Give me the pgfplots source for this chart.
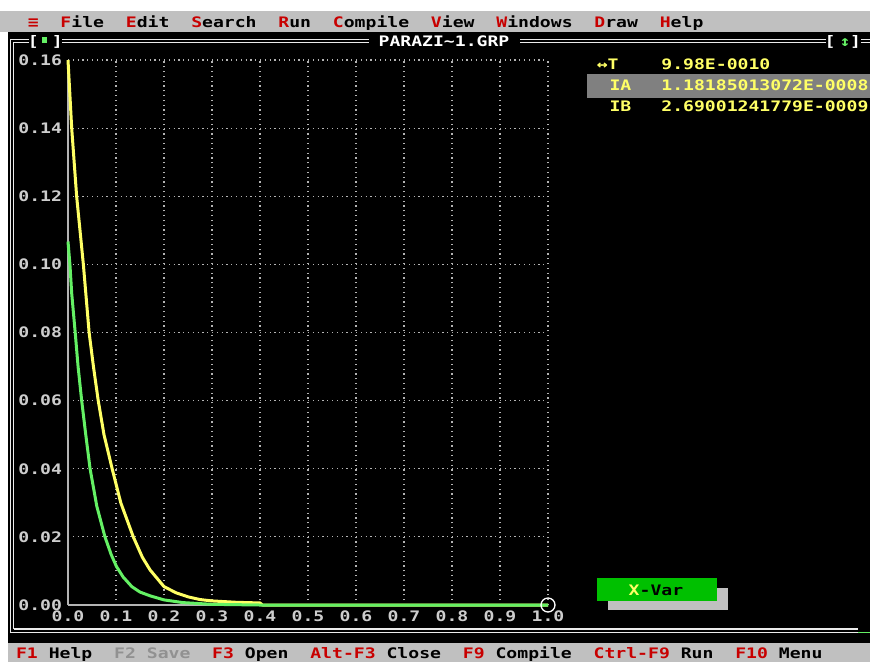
\documentclass[border=0pt]{standalone}
\usepackage{fontspec}
\usepackage{pgfplots}
\pgfplotsset{compat=1.18}
\newfontfamily\dos{DejaVu Sans Mono}[FakeStretch=1.25]
\newcommand\dosf{\dos\bfseries\fontsize{14.48}{16}\selectfont}
\definecolor{menugrey}{RGB}{192,192,192}
\definecolor{dosred}{RGB}{200,0,0}
\definecolor{dosyellow}{RGB}{255,255,102}
\definecolor{curveyellow}{RGB}{255,255,100}
\definecolor{curvegreen}{RGB}{100,240,100}
\definecolor{btngreen}{RGB}{0,192,0}
\definecolor{hlgrey}{RGB}{128,128,128}
\definecolor{labgrey}{RGB}{205,205,205}
\definecolor{gridgrey}{RGB}{180,180,180}
\definecolor{disgrey}{RGB}{145,145,145}
\definecolor{framewhite}{RGB}{235,235,235}
\begin{document}
\begin{tikzpicture}
\begin{scope}[x=1pt,y=-1pt]
\useasboundingbox (0,0) rectangle (870,662);
\fill[white] (0,0) rectangle (870,662);
\fill[menugrey] (0,10.5) rectangle (870,32);
\fill[black] (8,32) rectangle (870,643);
\fill[menugrey] (8,643) rectangle (870,662);
% menu bar
\node[anchor=base west, inner sep=0pt, font=\dosf, text=black] at (27.6,27.3)
 {\textcolor{dosred}{≡}~~\textcolor{dosred}{F}ile~~\textcolor{dosred}{E}dit~~\textcolor{dosred}{S}earch~~\textcolor{dosred}{R}un~~\textcolor{dosred}{C}ompile~~\textcolor{dosred}{V}iew~~\textcolor{dosred}{W}indows~~\textcolor{dosred}{D}raw~~\textcolor{dosred}{H}elp};
% status bar
\node[anchor=base west, inner sep=0pt, font=\dosf, text=black] at (15.9,658.3)
 {\textcolor{dosred}{F1}~Help~~\textcolor{disgrey}{F2~Save}~~\textcolor{dosred}{F3}~Open~~\textcolor{dosred}{Alt-F3}~Close~~\textcolor{dosred}{F9}~Compile~~\textcolor{dosred}{Ctrl-F9}~Run~~\textcolor{dosred}{F10}~Menu};
% window frame
\begin{scope}[framewhite, line width=1.4pt]
\draw (10.3,632.7) -- (10.3,39.7) -- (29,39.7);
\draw (13.7,629) -- (13.7,42.7) -- (29,42.7);
\draw (62,39.7) -- (369,39.7); \draw (62,42.7) -- (369,42.7);
\draw (520,39.7) -- (826,39.7); \draw (520,42.7) -- (826,42.7);
\draw (861,39.7) -- (870,39.7); \draw (861,42.7) -- (870,42.7);
\draw (10.3,632.7) -- (858,632.7);
\draw (13.7,629) -- (858,629);
\end{scope}
\draw[curvegreen, line width=1.4pt] (858,632.7) -- (870,632.7);
\node[anchor=base, inner sep=0pt, font=\dosf, text=white] at (33.3,46.5) {[};
\node[anchor=base, inner sep=0pt, font=\dosf, text=white] at (57.2,46.5) {]};
\fill[curvegreen] (41.7,37.3) rectangle (46.7,43.3);
\node[anchor=base, inner sep=0pt, font=\dosf, text=white] at (830,46.5) {[};
\node[anchor=base, inner sep=0pt, font=\dosf, text=curvegreen] at (845,46.5) {↕};
\node[anchor=base, inner sep=0pt, font=\dosf, text=white] at (855.5,46.5) {]};
\node[anchor=base west, inner sep=0pt, font=\dosf, text=white] at (378.4,46.5) {PARAZI\string~1.GRP};
% right panel
\fill[hlgrey] (586.7,74.3) rectangle (870,98.3);
\node[anchor=base west, inner sep=0pt, font=\dosf, text=dosyellow] at (596.6,69.3) {↔T};
\node[anchor=base west, inner sep=0pt, font=\dosf, text=dosyellow] at (661.2,69.3) {9.98E-0010};
\node[anchor=base west, inner sep=0pt, font=\dosf, text=dosyellow] at (609.3,90.3) {IA};
\node[anchor=base west, inner sep=0pt, font=\dosf, text=dosyellow] at (661.2,90.3) {1.18185013072E-0008};
\node[anchor=base west, inner sep=0pt, font=\dosf, text=dosyellow] at (609.3,111) {IB};
\node[anchor=base west, inner sep=0pt, font=\dosf, text=dosyellow] at (661.2,111) {2.69001241779E-0009};
% X-Var button
\fill[menugrey] (608.3,588.3) rectangle (728.3,610);
\fill[btngreen] (597.3,578.3) rectangle (717.3,600.7);
\node[anchor=base west, inner sep=0pt, font=\dosf, text=black] at (628.5,595) {\textcolor{dosyellow}{X}-Var};
\end{scope}
\begin{axis}[
  at={(68pt,-605pt)}, anchor=south west,
  scale only axis, width=480pt, height=545pt,
  xmin=0, xmax=1, ymin=0, ymax=0.16,
  clip=false,
  axis x line=bottom, axis y line=left,
  axis line style={draw=gridgrey, line width=1.3pt, -},
  xtick={0,0.1,0.2,0.3,0.4,0.5,0.6,0.7,0.8,0.9,1.0},
  ytick={0,0.02,0.04,0.06,0.08,0.10,0.12,0.14,0.16},
  major tick length=0pt,
  grid=major,
  major grid style={draw=gridgrey, line width=1.2pt, dash pattern=on 1.2pt off 3.6pt},
  ticklabel style={font=\dosf, color=labgrey, inner sep=0pt},
  xticklabel style={anchor=north, yshift=-6pt, /pgf/number format/fixed, /pgf/number format/fixed zerofill, /pgf/number format/precision=1, /pgf/number format/assume math mode=true},
  yticklabel style={anchor=east, xshift=-5.8pt, /pgf/number format/fixed, /pgf/number format/fixed zerofill, /pgf/number format/precision=2, /pgf/number format/assume math mode=true},
]
\addplot[curveyellow, line width=3pt, line join=round, mark=none] coordinates {
(0,0.160)(0.0077,0.140)(0.018,0.120)(0.032,0.100)(0.044,0.080)(0.053,0.070)(0.063,0.060)(0.075,0.050)(0.092,0.040)(0.110,0.030)(0.136,0.020)(0.155,0.014)(0.171,0.0103)(0.200,0.0054)(0.225,0.0036)(0.250,0.0024)(0.275,0.0016)(0.300,0.0012)(0.350,0.0008)(0.400,0.0006)(0.405,0)(1.0,0)};
\addplot[curvegreen, line width=3pt, line join=round, mark=none] coordinates {
(0,0.1067)(0.004,0.100)(0.0077,0.0915)(0.015,0.080)(0.021,0.070)(0.0285,0.060)(0.037,0.050)(0.046,0.040)(0.060,0.029)(0.077,0.020)(0.090,0.0148)(0.101,0.0113)(0.115,0.0082)(0.133,0.0054)(0.150,0.0038)(0.171,0.0027)(0.200,0.0015)(0.240,0.0007)(0.300,0.0002)(0.350,0.0001)(0.400,0)(1.0,0)};
\addplot[only marks, mark=o, mark size=7pt, mark options={draw=white, line width=1.3pt}] coordinates {(1.0,0)};
\end{axis}
\end{tikzpicture}
\end{document}
